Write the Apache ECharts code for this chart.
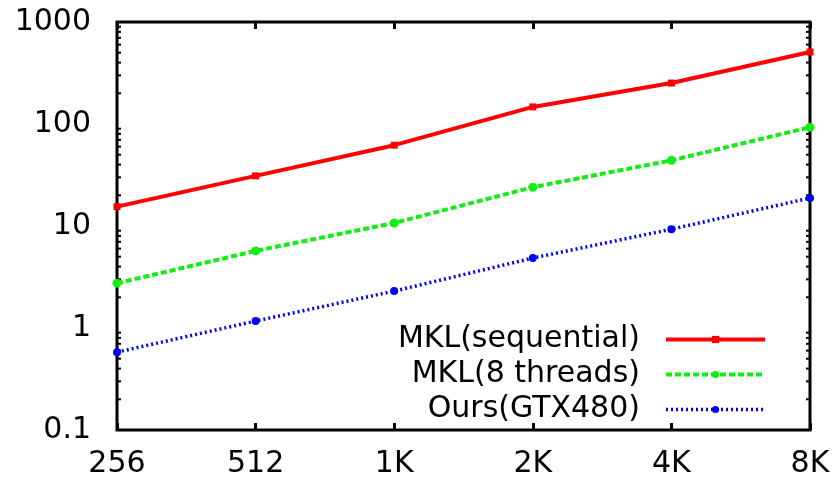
<!DOCTYPE html>
<html>
<head>
<meta charset="utf-8">
<script src="https://cdn.jsdelivr.net/npm/echarts@6/dist/echarts.min.js"></script>
<style>
  html, body { margin: 0; background: #fff; }
  #chart { width: 837px; height: 482px; }
</style>
</head>
<body>
<div id="chart"></div>
<script>
// matrix sizes on the x axis
const sizes = ["256", "512", "1K", "2K", "4K", "8K"];
// time values
const mklSequential = [15.5, 31, 62, 147, 252, 508];
const mklThreads = [2.75, 5.7, 10.7, 24, 44, 93];
const oursGtx = [0.58, 1.17, 2.3, 4.85, 9.3, 18.8];
const seriesNames = ["MKL(sequential)", "MKL(8 threads)", "Ours(GTX480)"];
// gnuplot style minor ticks: 2..9 inside each decade
const decades = [0.1, 1, 10, 100];
const minorSteps = [2, 3, 4, 5, 6, 7, 8, 9];
const minorTicks = [];
decades.forEach(d => minorSteps.forEach(s => minorTicks.push(+(d * s).toPrecision(3))));

const chart = echarts.init(document.getElementById("chart"));

const tickStyle = { inside: true, length: 7, lineStyle: { color: "#000", width: 3 } };
const yCommon = {
  type: "log",
  logBase: 10,
  min: 0.1,
  max: 1000,
  interval: 1,
  axisLine: { show: false },
  axisTick: tickStyle,
  splitLine: { show: false }
};
const xCommon = {
  type: "category",
  boundaryGap: false,
  data: sizes,
  axisLine: { show: false },
  axisTick: tickStyle,
  splitLine: { show: false }
};

const option = {
  animation: false,
  backgroundColor: "#fff",
  textStyle: { fontFamily: "DejaVu Sans" },
  grid: {
    show: true,
    left: 117,
    right: 27,
    top: 22,
    bottom: 52,
    borderColor: "#000",
    borderWidth: 3
  },
  legend: {
    orient: "vertical",
    right: 65,
    top: 317,
    align: "right",
    itemWidth: 99,
    itemHeight: 9,
    itemGap: 0,
    selectedMode: false,
    data: [
      { name: seriesNames[0], lineStyle: { width: 4 } },
      { name: seriesNames[1], lineStyle: { width: 4 } },
      { name: seriesNames[2], lineStyle: { width: 3.5 } }
    ],
    textStyle: {
      fontSize: 30,
      lineHeight: 35,
      color: "#000",
      padding: [0, 21, 0, 0]
    }
  },
  xAxis: [
    Object.assign({}, xCommon, {
      position: "bottom",
      axisLabel: { color: "#000", fontSize: 30, margin: 19 }
    }),
    Object.assign({}, xCommon, {
      position: "top",
      axisLabel: { show: false }
    })
  ],
  yAxis: [
    Object.assign({}, yCommon, {
      position: "left",
      axisLabel: { color: "#000", fontSize: 30, margin: 26, formatter: v => String(v) }
    }),
    Object.assign({}, yCommon, {
      position: "right",
      axisLabel: { show: false }
    })
  ],
  series: [
    {
      name: seriesNames[0],
      type: "line",
      data: mklSequential,
      color: "#ff0000",
      symbol: "rect",
      symbolSize: 7,
      lineStyle: { width: 4 },
      z: 5
    },
    {
      name: seriesNames[1],
      type: "line",
      data: mklThreads,
      color: "#11ee11",
      symbol: "circle",
      symbolSize: 9,
      lineStyle: { width: 4, type: [6, 3] },
      z: 4
    },
    {
      name: seriesNames[2],
      type: "line",
      data: oursGtx,
      color: "#0000ff",
      symbol: "circle",
      symbolSize: 8,
      lineStyle: { width: 3.5, type: [2, 3] },
      z: 3
    },
    {
      type: "custom",
      silent: true,
      data: minorTicks.map(v => [0, v]),
      encode: { x: 0, y: 1 },
      z: 2,
      renderItem: (params, api) => {
        const v = api.value(1);
        const l = api.coord([0, v]);
        const r = api.coord([sizes.length - 1, v]);
        const st = { stroke: "#000", lineWidth: 2 };
        return {
          type: "group",
          children: [
            { type: "line", shape: { x1: l[0], y1: l[1], x2: l[0] + 4, y2: l[1] }, style: st },
            { type: "line", shape: { x1: r[0] - 4, y1: r[1], x2: r[0], y2: r[1] }, style: st }
          ]
        };
      }
    }
  ]
};

chart.setOption(option);
</script>
</body>
</html>
